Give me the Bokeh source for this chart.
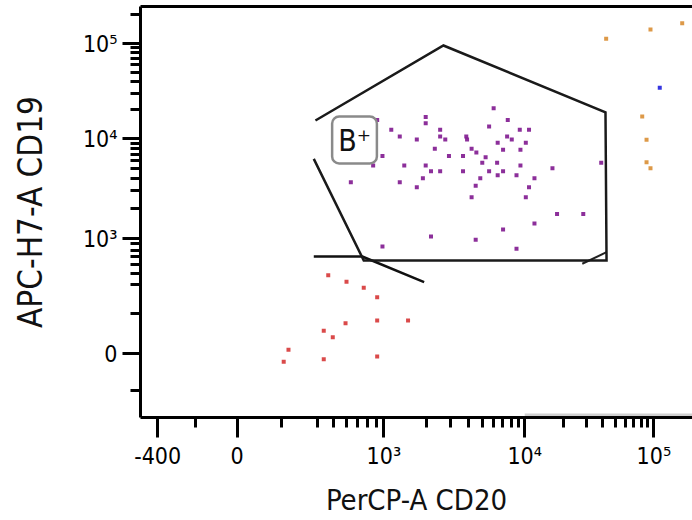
import numpy as np
from bokeh.plotting import figure
from bokeh.models import FixedTicker, LinearAxis, Label, Range1d
from bokeh.embed import file_html
from bokeh.resources import INLINE

# ---------------- data (raw fluorescence values) ----------------
# B+ gated events (purple)
b_cd20 = [914, 1130, 1300, 1720, 1990, 1990, 2520, 2520, 2740, 3860, 3910, 6030, 5600,
          7590, 9230, 10800, 7510, 8100, 6440, 10200, 7030, 9330, 2310, 4210, 981, 2910,
          3660, 4550, 5290, 5010, 6380, 866, 1400, 1990, 2170, 2520, 3660, 5600, 7030,
          6440, 9330, 8750, 4850, 11900, 16400, 39100, 640, 1300, 1900, 1720, 4500, 10800,
          4210, 10200, 17800, 28400, 11900, 7030, 2170, 4500, 981, 8750]
b_cd19 = [15700, 12400, 10500, 9770, 16800, 14500, 12400, 10500, 9770, 10500, 9770, 20800,
          13400, 15700, 12400, 12400, 10500, 9770, 9060, 9060, 7710, 7710, 7890, 7890, 6710,
          6710, 6710, 7240, 6500, 5750, 5750, 5370, 5370, 5370, 4710, 4710, 4710, 4710, 4710,
          4300, 5370, 4300, 4010, 4010, 5050, 5750, 3660, 3660, 4010, 3260, 3390, 3260, 2590,
          2590, 1770, 1770, 1420, 1230, 1050, 975, 856, 819]
# CD19-negative events (red)
neg_cd20 = [467, 603, 763, 914, 595, 914, 1490, 438, 498, 234, 212, 438, 914]
neg_cd19 = [485, 424, 372, 301, 143, 159, 159, 104, 73, 16, -40, -27, -14]
# bright events (orange)
hi_cd20 = [94100, 165600, 42700, 81200, 87700, 87700, 94100]
hi_cd19 = [140400, 163600, 112100, 17000, 9700, 5790, 5050]
# single blue event
blue_cd20 = [111000]
blue_cd19 = [34200]

# gate outlines (raw values)
gate_b_cd20 = [386, 2660, 42200, 43000, 763, 375]
gate_b_cd19 = [15470, 95300, 18900, 652, 652, 6270]
gate_low_cd20 = [375, 747, 1940]
gate_low_cd19 = [705, 705, 420]
gate_corner_cd20 = [27900, 43000]
gate_corner_cd19 = [611, 767]
gate_bottom_cd20 = [10000, 300000]
gate_bottom_cd19 = [-345, -345]
gate_label = "B⁺"
gate_label_cd20 = 673
gate_label_cd19 = 9660

# ticks
x_major = [-400, 0, 1000, 10000, 100000]
x_major_labels = ["-400", "0", "10³", "10⁴", "10⁵"]
x_minor = [-200, 200, 400, 500, 600, 700, 800, 900,
           2000, 3000, 4000, 5000, 6000, 7000, 8000, 9000,
           20000, 30000, 40000, 50000, 60000, 70000, 80000, 90000]
y_major = [0, 1000, 10000, 100000]
y_major_labels = ["0", "10³", "10⁴", "10⁵"]
y_minor = [-200, 200, 400, 500, 600, 700, 800, 900,
           2000, 3000, 4000, 5000, 6000, 7000, 8000, 9000,
           20000, 30000, 40000, 50000, 60000, 70000, 80000, 90000, 200000]

# biexponential-like display scale calibration (value -> display unit)
X_CAL_VALUES = [-1000, -400, -200, 0, 200, 400, 1000, 1e4, 1e5, 1e6]
X_CAL_POS = [90, 157.2, 194.8, 236.7, 280.5, 317, 383.4, 524.2, 653.4, 782.6]
Y_CAL_VALUES = [-1000, -400, -200, 0, 200, 400, 1000, 1e4, 1e5, 1e6]
Y_CAL_POS = [-51, -5, 27, 64, 104, 133, 179, 279, 374, 469]


def make_scale(vals, pos, cof=200.0):
    ua = np.arcsinh(np.asarray(vals, float) / cof)
    pa = np.asarray(pos, float)

    def f(v):
        return np.interp(np.arcsinh(np.asarray(v, float) / cof), ua, pa)
    return f


fx = make_scale(X_CAL_VALUES, X_CAL_POS)
fy = make_scale(Y_CAL_VALUES, Y_CAL_POS)

FONT = "DejaVu Sans Condensed"

p = figure(width=692, height=520, output_backend="svg", toolbar_location=None,
           x_range=Range1d(140, 692), y_range=Range1d(0, 411),
           min_border_left=140, min_border_right=0, min_border_top=6, min_border_bottom=103)
p.outline_line_color = None
p.grid.visible = False
p.background_fill_color = "white"
p.border_fill_color = "white"

# axes
xt = FixedTicker(ticks=[float(t) for t in fx(x_major)], minor_ticks=[float(t) for t in fx(x_minor)])
yt = FixedTicker(ticks=[float(t) for t in fy(y_major)], minor_ticks=[float(t) for t in fy(y_minor)])
p.xaxis.ticker = xt
p.yaxis.ticker = yt
p.xaxis.major_label_overrides = {float(fx(v)): s for v, s in zip(x_major, x_major_labels)}
p.yaxis.major_label_overrides = {float(fy(v)): s for v, s in zip(y_major, y_major_labels)}

for ax, tout in ((p.xaxis[0], 20), (p.yaxis[0], 18)):
    ax.axis_line_width = 3
    ax.axis_line_color = "black"
    ax.major_tick_line_width = 3
    ax.minor_tick_line_width = 3
    ax.major_tick_line_color = "black"
    ax.minor_tick_line_color = "black"
    ax.major_tick_in = 0
    ax.minor_tick_in = 0
    ax.major_tick_out = tout
    ax.minor_tick_out = 10
    ax.major_label_text_font = FONT
    ax.major_label_text_font_size = "23px"
    ax.major_label_text_color = "black"
    ax.axis_label_text_font = FONT
    ax.axis_label_text_font_style = "normal"
    ax.axis_label_text_color = "#111111"

p.xaxis.axis_label = "PerCP-A CD20"
p.yaxis.axis_label = "APC-H7-A CD19"
p.xaxis.axis_label_text_font_size = "29px"
p.yaxis.axis_label_text_font_size = "33px"
p.xaxis.major_label_standoff = 5
p.yaxis.major_label_standoff = 5
p.xaxis.axis_label_standoff = 11
p.yaxis.axis_label_standoff = 30

top = LinearAxis(ticker=FixedTicker(ticks=[]), major_tick_out=0, minor_tick_out=0,
                 major_tick_in=0, minor_tick_in=0,
                 major_label_text_font_size="0px", axis_line_width=3, axis_line_color="black")
p.add_layout(top, "above")

# events
p.scatter(fx(neg_cd20), fy(neg_cd19), marker="square", size=4, fill_color="#d42a2a",
          line_color=None, fill_alpha=0.85)
p.scatter(fx(b_cd20), fy(b_cd19), marker="square", size=4, fill_color="#80188f",
          line_color=None, fill_alpha=0.9)
p.scatter(fx(hi_cd20), fy(hi_cd19), marker="square", size=4, fill_color="#d98e34",
          line_color=None, fill_alpha=0.9)
p.scatter(fx(blue_cd20), fy(blue_cd19), marker="square", size=4, fill_color="#3535e0",
          line_color=None)

# gates
p.line(fx(gate_bottom_cd20), fy(gate_bottom_cd19), line_color="#cfcfcf", line_width=3)
p.line(fx(gate_low_cd20), fy(gate_low_cd19), line_color="#111111", line_width=2.5)
p.line(fx(gate_corner_cd20), fy(gate_corner_cd19), line_color="#222222", line_width=2)
p.line(fx(gate_b_cd20), fy(gate_b_cd19), line_color="#1a1a1a", line_width=2.5,
       line_join="miter")

p.add_layout(Label(x=float(fx(gate_label_cd20)), y=float(fy(gate_label_cd19)), text=gate_label,
                   text_align="center", text_baseline="middle",
                   text_font=FONT, text_font_size="30px", text_color="#111111",
                   border_line_color="#8a8a8a", border_line_width=2.5,
                   background_fill_color="white", padding=6, border_radius=7))

open("out.html", "w").write(file_html(p, INLINE))
